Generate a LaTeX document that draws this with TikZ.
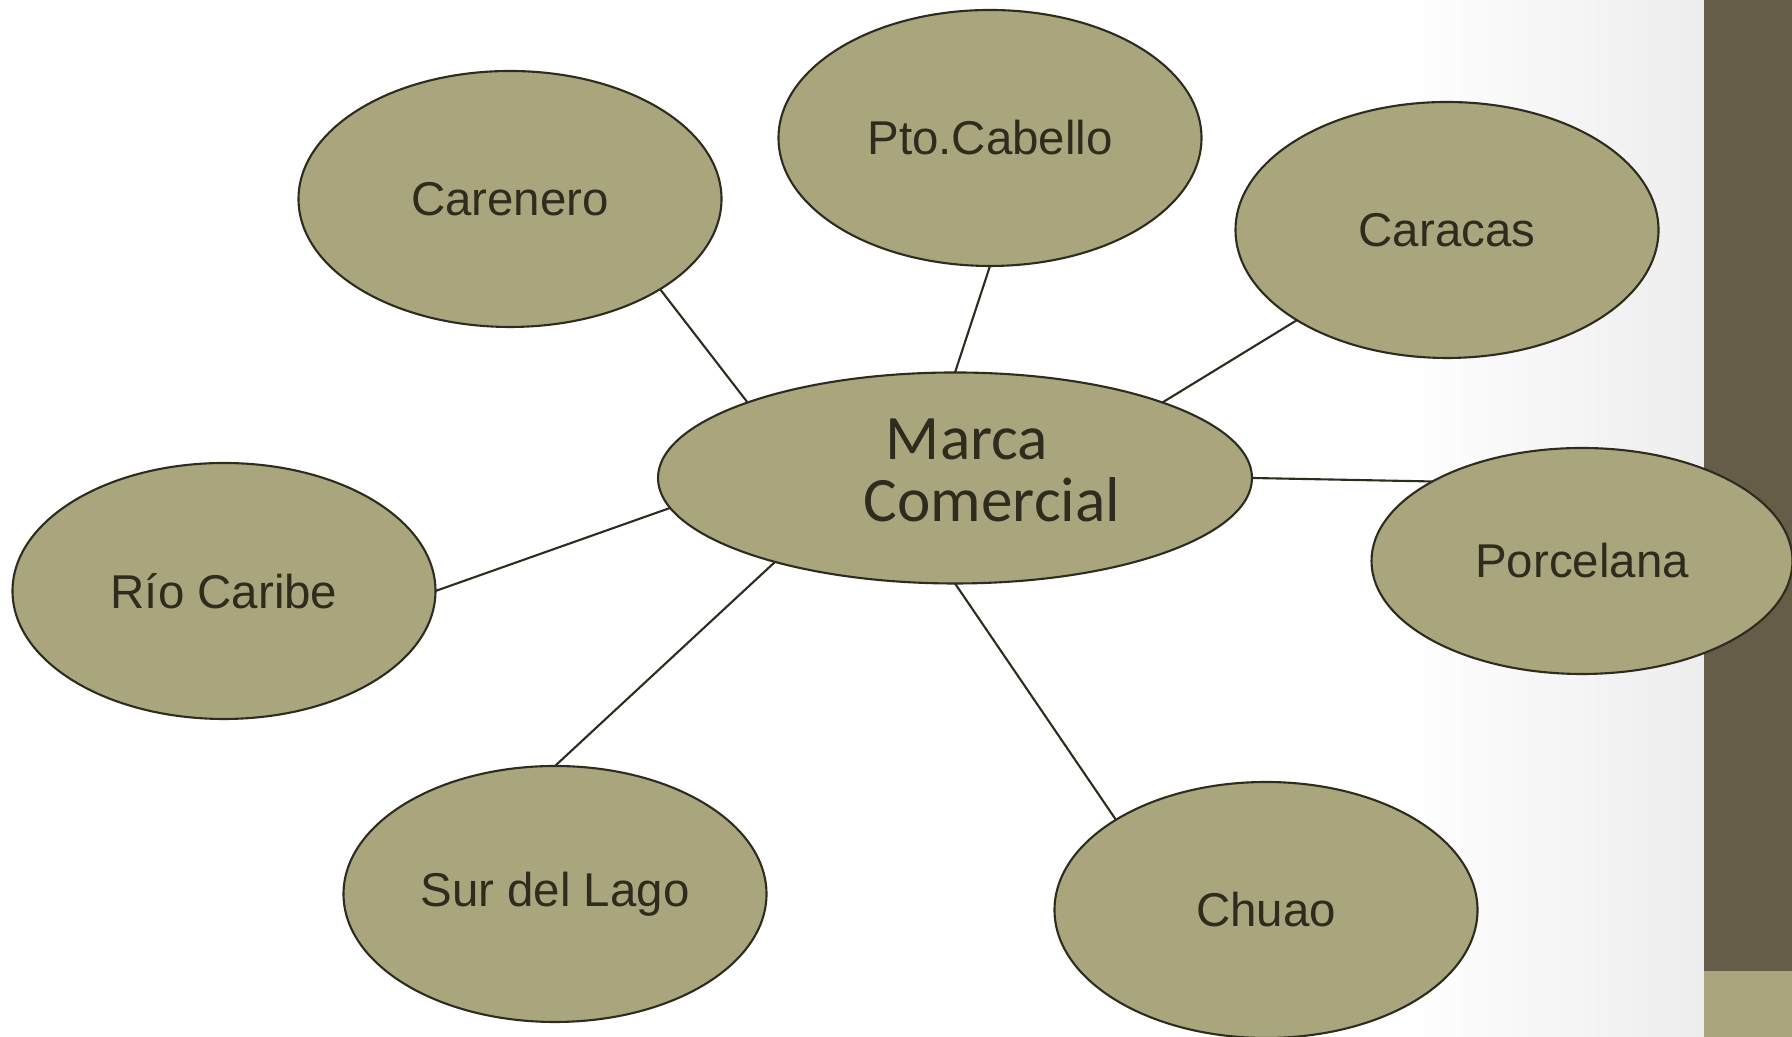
\documentclass[tikz,border=0pt]{standalone}
\usepackage{fontspec}
\usepackage{tkz-graph}
\usetikzlibrary{shapes.geometric}
\setmainfont{Liberation Sans}
\newfontfamily\calibfont{Carlito}
\definecolor{olivo}{RGB}{169,166,126}
\definecolor{olivooscuro}{RGB}{101,93,72}
\definecolor{texto}{RGB}{46,43,31}
\tikzset{
  VertexStyle/.style={shape=ellipse,draw=texto,line width=0.6pt,fill=olivo,text=texto,
    inner sep=0pt,minimum width=4.23cm,minimum height=2.56cm,
    font=\fontsize{13.5}{16}\selectfont},
  MarcaStyle/.style={minimum width=5.94cm,minimum height=2.11cm,align=center,
    font=\calibfont\fontsize{18}{17.5}\selectfont},
  PorcelanaStyle/.style={minimum width=4.21cm,minimum height=2.26cm},
  EdgeStyle/.style={draw=texto,line width=0.6pt}
}

\begin{document}
\begin{tikzpicture}
\useasboundingbox (0,0) rectangle (17.92,10.37);
\shade[left color=white,right color=black!7] (14,0) rectangle (17.04,10.37);
\fill[olivooscuro] (17.04,0.66) rectangle (17.92,10.37);
\fill[olivo] (17.04,0) rectangle (17.92,0.66);
\begin{scope}[VertexStyle/.append style=MarcaStyle]
\Vertex[x=9.55,y=5.59,
  L={\hspace*{0.74cm}Marca\hspace*{0.5cm}\\\hspace*{0.74cm}Comercial\rule[-0.16cm]{0pt}{0.16cm}}]{MC}
\end{scope}
\begin{scope}[VertexStyle/.append style=PorcelanaStyle]
\Vertex[x=15.82,y=4.76,L=Porcelana]{Por}
\end{scope}
\Vertex[x=5.10,y=8.38,L=Carenero]{Car}
\Vertex[x=9.90,y=8.99,L=Pto.Cabello]{Pto}
\Vertex[x=14.47,y=8.07,L=Caracas]{Ccs}
\Vertex[x=2.24,y=4.46,L={Río Caribe}]{Rio}
\Vertex[x=5.55,y=1.43,L={Sur del Lago}]{Sur}
\Vertex[x=12.66,y=1.27,L=Chuao]{Chu}
\Edge(Car.-31)(MC.160)
\Edge(Pto.south)(MC.north)
\Edge(Ccs.-149)(MC.20)
\Edge(MC.east)(Por.152)
\Edge(Rio.east)(MC.-174)
\Edge(Sur.north)(MC.-155)
\Edge(Chu.149)(MC.south)
\end{tikzpicture}
\end{document}
